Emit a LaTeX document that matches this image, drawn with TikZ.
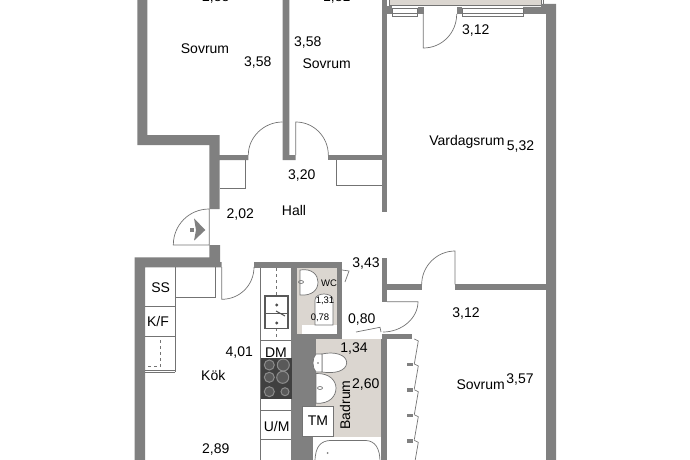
\documentclass[tikz,border=0pt]{standalone}
\usepackage{fontspec}
\setmainfont{Liberation Sans}
\definecolor{wallgray}{RGB}{128,128,128}
\definecolor{wetbeige}{RGB}{219,214,208}
\begin{document}
\begin{tikzpicture}[x=1pt,y=-1pt,line width=0.6pt,
  lbl/.style={font=\fontsize{14}{16}\selectfont,text=black,inner sep=0pt},
  smalllbl/.style={font=\fontsize{9.5}{11}\selectfont,text=black,inner sep=0pt},
  thinline/.style={draw=black!55,line width=0.7pt},
  wall/.style={fill=wallgray,draw=none}]
\useasboundingbox (0,0) rectangle (690,460);
\clip (0,0) rectangle (690,460);

%wet rooms and balcony
\fill[wetbeige] (297,268) rectangle (338,334);
\fill[wetbeige] (316,339) rectangle (381,440);
\draw[thinline,fill=wetbeige] (389,-2) -- (389,5) -- (541,5) -- (541,-2);
\draw[thinline] (541,-2) -- (543,-2) -- (543,5) -- (541,5);

%outer and inner walls
\fill[wall] (137.3,-2) -- (147.3,-2) -- (147.3,135) -- (219.5,135) -- (219.5,155) -- (248.3,155)
  -- (248.3,160) -- (219.5,160) -- (219.5,209) -- (209.3,209) -- (209.3,145) -- (137.3,145) -- cycle;
\fill[wall] (209.3,245) -- (220,245) -- (220,262) -- (221.7,262) -- (221.7,267.3) -- (145,267.3)
  -- (145,462) -- (134.7,462) -- (134.7,257.3) -- (209.3,257.3) -- cycle;
\fill[wall] (282.5,-2) -- (289.3,-2) -- (289.3,155) -- (295.7,155) -- (295.7,160) -- (282.5,160) -- cycle;
\fill[wall] (328.3,155) rectangle (382,160);
\fill[wall] (381.7,-2) rectangle (387.3,212);
\fill[wall] (381.7,6) rectangle (392,14);
\fill[wall] (417.7,7) rectangle (424,14);
\fill[wall] (456.7,7) rectangle (462,14);
\fill[wall] (523,7) -- (541,7) -- (541,4) -- (556,4) -- (556,462) -- (546,462) -- (546,14) -- (523,14) -- cycle;
\fill[wall] (381.7,258.3) rectangle (387.3,301.7);
\fill[wall] (387,284.3) rectangle (421.7,290);
\fill[wall] (455,284.3) rectangle (546,290);
\fill[wall] (254,262.3) rectangle (341.7,267.7);
\fill[wall] (291,267) rectangle (296.7,334);
\fill[wall] (337.3,267) rectangle (341.7,339);
\fill[wall] (291,334.3) rectangle (340,339);
\fill[wall] (291,339) rectangle (313.3,462);
\fill[wall] (313,339) rectangle (316,406);
\fill[wall] (381.7,333.5) rectangle (412.3,339.3);
\fill[wall] (380.7,339) rectangle (387,462);

%windows
\foreach \a/\b in {392/417.7,462/523} {
  \draw[thinline,fill=white] (\a,8.3) rectangle (\b,16.7);
  \draw[thinline] (\a,13.3) -- (\b,13.3);
  }

%door leaves
\draw[thinline] (248.3,155) .. controls (248.3,137) and (264,122) .. (282.5,122);
\draw[thinline] (295.7,155) -- (295.7,122) .. controls (314,122) and (328.3,137) .. (328.3,155);
\draw[thinline] (423.3,14) -- (423.3,48) .. controls (442,48) and (456.7,33) .. (456.7,14);
\draw[thinline] (209.3,209) .. controls (189,209) and (173.3,225) .. (173.3,245) -- (209.3,245) -- cycle;
\draw[thinline] (221.7,267) -- (221.7,299.3) .. controls (240,299.3) and (254,285) .. (254,267);
\draw[thinline] (421.7,284.3) .. controls (421.7,266) and (437,251) .. (455,251) -- (455,284.3);
\draw[thinline] (387,301.7) -- (418,301.7) .. controls (418,318) and (402,332) .. (383,332);
\draw[thinline] (342,270) -- (349,271) -- (345,282);
\draw[thinline] (356,332) -- (380,327.3) -- (381,332);

%entrance arrow
\fill[wallgray] (190,227.7) rectangle (194,232.3);
\fill[wallgray] (194,218.3) -- (205.3,230) -- (194,240.7) -- (196,230) -- cycle;

%wardrobes hall
\draw[thinline] (220,188) -- (245,188) -- (245,160);
\draw[thinline] (336,160) -- (336,185) -- (382,185);

%kitchen left side
\draw[thinline] (175,267) -- (175,371.7);
\draw[thinline] (175,297.7) -- (215,297.7) -- (215,267);
\draw[thinline] (145,306.7) -- (175,306.7);
\draw[thinline] (145,336.7) -- (175,336.7);
\draw[thinline] (145,370.3) -- (175,370.3);
\draw[thinline] (145,372) -- (175,372);
\draw[thinline,dashed] (160.7,340) -- (160.7,366) -- (147,366);

%kitchen counter
\draw[thinline] (260.7,268) -- (260.7,460);
\draw[thinline,dashed] (276.7,268) -- (276.7,340);
\draw[black!65,line width=1.6pt,fill=white] (265,296) rectangle (287.7,328.3);
\draw[black!65,line width=1pt] (265,313) -- (287.7,313);
\foreach \y in {305,323} \fill[black!70] (276.7,\y) circle (1.6);
\draw[black!70,line width=1pt] (276,311) -- (285,316);
\draw[thinline] (260.7,340) -- (291,340);
\fill[black!75] (261,358.3) rectangle (291.7,399.3);
\foreach \x/\y/\r in {269.3/365/5,283.3/365/6,269.3/377.3/5,282.7/377.3/6,269.3/391.7/5,285/391.7/4} {
  \draw[black!45,line width=1pt,fill=black!65] (\x,\y) circle (\r);
  }
\foreach \y in {410,439} \draw[thinline] (260.7,\y) -- (291,\y);

%WC fixtures
\fill[white] (301.7,325) rectangle (337,333.5);
\draw[thinline,fill=white] (300,270) .. controls (312,268) and (318,275) .. (318,282) .. controls (318,290) and (312,296) .. (300,295) -- cycle;
\draw[thinline] (301,282) ellipse (2.5 and 1.5);
\draw[thinline,fill=white] (315,300) .. controls (315,292) and (333,292) .. (333,300) -- (333,325) -- (315,325) -- cycle;

%bathroom fixtures
\draw[thinline,fill=white] (322,354) .. controls (335,351) and (347,355) .. (346.7,363) .. controls (346,371) and (335,374) .. (322,372) -- cycle;
\draw[thinline,fill=white] (316,354) -- (322,354) -- (322,372) -- (316,372) .. controls (312,368) and (312,358) .. (316,354) -- cycle;
\fill[black!60] (318,363) circle (0.8);
\draw[thinline,fill=white] (316,373.5) .. controls (330,373) and (336,381) .. (336,388) .. controls (336,396) and (330,404) .. (316,403.3) -- cycle;
\draw[thinline] (320,388) ellipse (2.5 and 1.5);
\fill[white] (313.3,437) rectangle (380.7,462);
\draw[thinline,fill=white] (315,462) .. controls (315,445) and (322,441) .. (330,440.5) -- (366,440.5) .. controls (375,441) and (380,448) .. (380,462);
\fill[black!50] (327.7,453) circle (1);
\draw[thinline,fill=white] (302.7,406) rectangle (333.3,436);

%closet
\foreach \y in {362.7,388.3,414,439.3} \fill[wall] (406.7,\y) rectangle +(6.3,3.3);
\foreach \a in {341,366,391.7,416.7,442.3} \draw[thinline] (414.3,\a-2) -- (418.3,\a) -- (414.3,\a+23);

%room names and measures
\node (sovrumA) [lbl] at (205,49) {Sovrum};
\node (sovrumB) [lbl] at (326.7,63.7) {Sovrum};
\node (sovrumC) [lbl] at (480.7,384.3) {Sovrum};
\node (vardagsrum) [lbl] at (467,142) {Vardagsrum};
\node (hall) [lbl] at (294,210) {Hall};
\node (kok) [lbl] at (213.3,375) {Kök};
\node (badrum) [lbl,rotate=90] at (345,405) {Badrum};
\node (wc) [smalllbl] at (329,283) {WC};
\node (ss) [lbl] at (160.7,288) {SS};
\node (kf) [lbl] at (158,321.7) {K/F};
\node (dm) [lbl] at (276,353) {DM};
\node (um) [lbl] at (276.7,426) {U/M};
\node (tm) [lbl] at (318,421) {TM};
\node (mA) [lbl] at (215.7,-2) {2,88};
\node (mB) [lbl] at (336.7,-2) {1,81};
\node (mC) [lbl] at (257.7,63) {3,58};
\node (mD) [lbl] at (307.7,43) {3,58};
\node (mE) [lbl] at (475.7,30.7) {3,12};
\node (mF) [lbl] at (520.5,147) {5,32};
\node (mG) [lbl] at (301.7,176) {3,20};
\node (mH) [lbl] at (240.3,215) {2,02};
\node (mI) [lbl] at (366,263.3) {3,43};
\node (mJ) [lbl] at (466,314) {3,12};
\node (mK) [lbl] at (361.7,319.3) {0,80};
\node (mL) [lbl] at (354,348.3) {1,34};
\node (mM) [lbl] at (239.3,352.3) {4,01};
\node (mN) [lbl] at (365.7,384.3) {2,60};
\node (mO) [lbl] at (520,380) {3,57};
\node (mP) [lbl] at (215.7,450) {2,89};
\node (mQ) [smalllbl] at (325,301) {1,31};
\node (mR) [smalllbl] at (320,317.3) {0,78};
\end{tikzpicture}
\end{document}
